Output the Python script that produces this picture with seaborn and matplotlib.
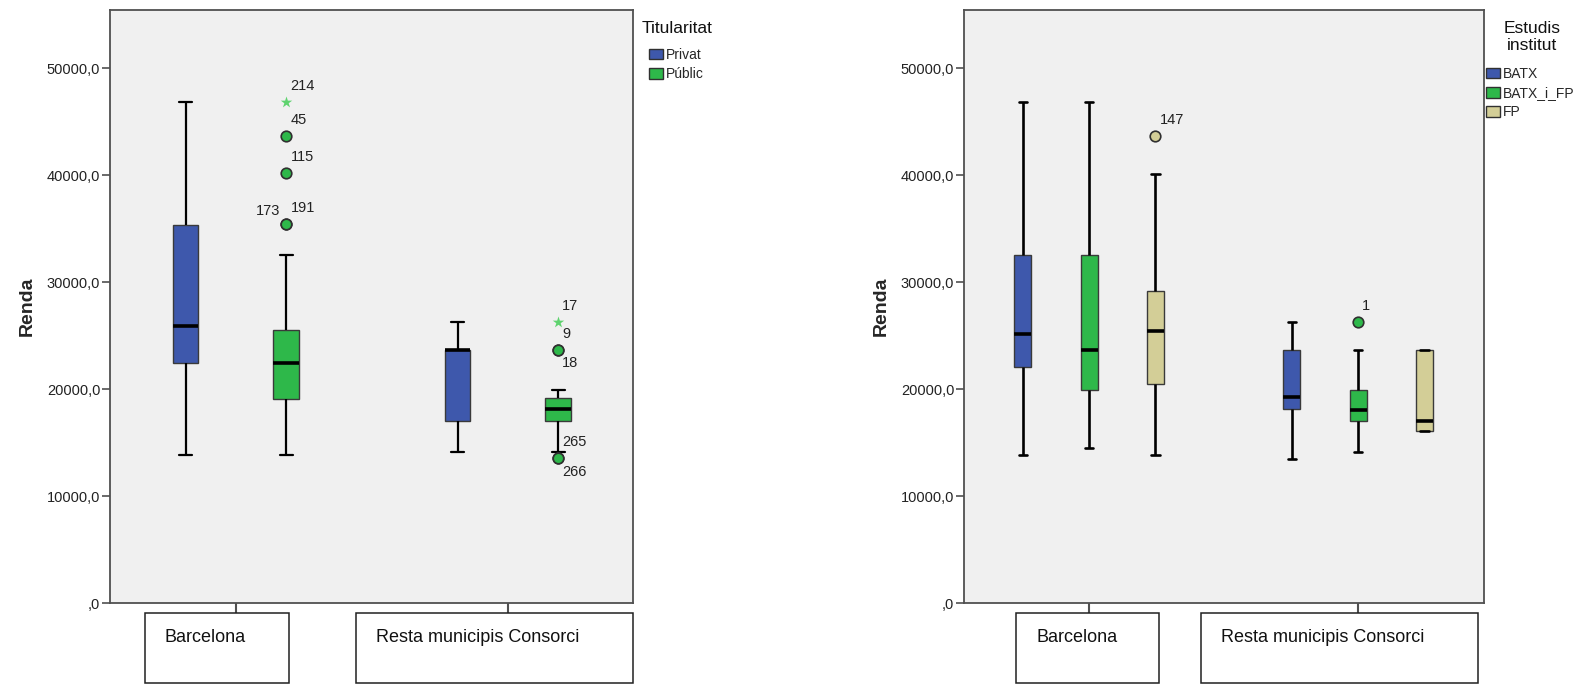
import numpy as np
import pandas as pd
import matplotlib
matplotlib.use("Agg")
import matplotlib.pyplot as plt
from matplotlib.patches import Patch, Rectangle
from matplotlib.ticker import FuncFormatter
import seaborn as sns

# values (Renda)
zones = ["Barcelona", "Resta municipis Consorci"]

# panel 1: Titularitat
tit_levels = ["Privat", "Públic"]
tit_zone = ["Barcelona", "Barcelona", "Resta municipis Consorci", "Resta municipis Consorci"]
tit_hue = ["Privat", "Públic", "Privat", "Públic"]
tit_low = [13870, 13870, 14110, 14110]
tit_q1 = [22430, 19090, 17010, 17010]
tit_med = [25940, 22430, 23730, 18190]
tit_q3 = [35400, 25530, 23730, 19210]
tit_high = [46860, 32540, 26300, 19980]

tit_out_zone = ["Barcelona"] * 5 + ["Resta municipis Consorci"] * 5
tit_out_hue = ["Públic"] * 10
tit_out_val = [46840, 43720, 40200, 35460, 35460, 26300, 23690, 23690, 13560, 13560]
tit_out_kind = ["*", "o", "o", "o", "o", "*", "o", "o", "o", "o"]
tit_out_label = ["214", "45", "115", "173", "191", "17", "9", "18", "265", "266"]

# panel 2: Estudis institut
est_levels = ["BATX", "BATX_i_FP", "FP"]
est_zone = ["Barcelona"] * 3 + ["Resta municipis Consorci"] * 3
est_hue = ["BATX", "BATX_i_FP", "FP"] * 2
est_low = [13870, 14480, 13870, 13540, 14110, 16110]
est_q1 = [22060, 19940, 20510, 18150, 17010, 16110]
est_med = [25160, 23650, 25490, 19290, 18070, 17010]
est_q3 = [32540, 32540, 29160, 23700, 19940, 23700]
est_high = [46860, 46860, 40170, 26300, 23700, 23700]

est_out_zone = ["Barcelona", "Resta municipis Consorci"]
est_out_hue = ["FP", "BATX_i_FP"]
est_out_val = [43680, 26300]
est_out_kind = ["o", "o"]
est_out_label = ["147", "1"]

# label placement next to each outlier (ur = upper right, ul = upper left, lr = lower right)
tit_out_side = ["ur", "ur", "ur", "ul", "ur", "ur", "ur", "lr", "ur", "lr"]
est_out_side = ["ur", "ur"]

colors = {"Privat": "#3e58ac", "Públic": "#2eb84a",
          "BATX": "#3e58ac", "BATX_i_FP": "#2eb84a", "FP": "#d3ce97"}
star_color = "#5fd36f"

sns.set_style("white")
plt.rcParams["font.family"] = ["Liberation Sans", "DejaVu Sans"]

W, H = 1584, 684
fig = plt.figure(figsize=(W / 100, H / 100), dpi=100)


def fx(px):
    return px / W


def fy(py):
    return 1 - py / H


def five_number_frame(zone, hue, low, q1, med, q3, high):
    rows = []
    for z, h, *vals in zip(zone, hue, low, q1, med, q3, high):
        for v in vals:
            rows.append((z, h, v))
    return pd.DataFrame(rows, columns=["zona", "grup", "Renda"])


BOX_W = 0.74
offsets_pt = {"ur": (3, 11.5, "left"), "ul": (-4, 9.5, "right"), "lr": (3, -9.5, "left")}


def draw_panel(ax, df, levels, oz, oh, ov, ok, ol, oside, whisk_lw):
    sns.boxplot(data=df, x="zona", y="Renda", hue="grup", order=zones, hue_order=levels,
                palette=colors, width=BOX_W, gap=0.745, whis=(0, 100), showfliers=False,
                saturation=1, linecolor="#3a3a3a", linewidth=1.0,
                medianprops=dict(color="black", linewidth=2.6),
                whiskerprops=dict(color="black", linewidth=whisk_lw),
                capprops=dict(color="black", linewidth=whisk_lw),
                legend=False, ax=ax)
    n = len(levels)
    for z, h, v, k, lab, side in zip(oz, oh, ov, ok, ol, oside):
        x = zones.index(z) + (levels.index(h) - (n - 1) / 2) * BOX_W / n
        if k == "*":
            ax.scatter([x], [v], marker="*", s=75, color=star_color, linewidths=0, zorder=5)
        else:
            ax.scatter([x], [v], marker="o", s=58, facecolor=colors[h], edgecolor="#303030",
                       linewidths=1.2, zorder=5)
        dx, dy, ha = offsets_pt[side]
        ax.annotate(lab, (x, v), xytext=(dx, dy), textcoords="offset points",
                    ha=ha, va="center", fontsize=10.5, color="#222222")

    ax.set_facecolor("#f0f0f0")
    for s in ax.spines.values():
        s.set_visible(True)
        s.set_color("#505050")
        s.set_linewidth(1.3)
    ax.set_ylim(0, 55500)
    ax.set_yticks(np.arange(0, 50001, 10000))
    ax.yaxis.set_major_formatter(FuncFormatter(
        lambda v, p: ",0" if v == 0 else f"{v:.1f}".replace(".", ",")))
    ax.tick_params(axis="y", left=True, length=6, width=1.2, color="#505050",
                   labelsize=10.5, labelcolor="#222222", pad=1)
    ax.tick_params(axis="x", bottom=True, length=7, width=1.5, color="#505050",
                   labelbottom=False)
    ax.set_xlabel("")
    ax.set_ylabel("Renda", fontsize=14, fontweight="bold", va="bottom")
    ax.yaxis.set_label_coords(-0.142, 0.5)


# left panel
ax1 = fig.add_axes([fx(110), fy(603.4), fx(633) - fx(110), fy(9.6) - fy(603.4)])
df1 = five_number_frame(tit_zone, tit_hue, tit_low, tit_q1, tit_med, tit_q3, tit_high)
draw_panel(ax1, df1, tit_levels, tit_out_zone, tit_out_hue, tit_out_val, tit_out_kind,
           tit_out_label, tit_out_side, 1.6)
ax1.set_xlim(-0.463, 1.46)

# right panel
ax2 = fig.add_axes([fx(964), fy(603.4), fx(1484) - fx(964), fy(9.6) - fy(603.4)])
df2 = five_number_frame(est_zone, est_hue, est_low, est_q1, est_med, est_q3, est_high)
draw_panel(ax2, df2, est_levels, est_out_zone, est_out_hue, est_out_val, est_out_kind,
           est_out_label, est_out_side, 1.9)
ax2.set_xlim(-0.465, 1.468)

# legends: titles as separate text, entries as legend
leg_kw = dict(loc="upper left", bbox_transform=fig.transFigure, frameon=False,
              fontsize=10, handlelength=1.0, handleheight=0.8,
              handletextpad=0.25, labelspacing=0.37, borderpad=0, borderaxespad=0)
h1 = [Patch(facecolor=colors[l], edgecolor="#303030", linewidth=1) for l in tit_levels]
ax1.legend(h1, tit_levels, bbox_to_anchor=(fx(649), fy(48)), **leg_kw)
fig.text(fx(642), fy(28.5), "Titularitat", ha="left", va="center", fontsize=12.5,
         color="#111111")

h2 = [Patch(facecolor=colors[l], edgecolor="#303030", linewidth=1) for l in est_levels]
ax2.legend(h2, est_levels, bbox_to_anchor=(fx(1486), fy(67)), **leg_kw)
fig.text(fx(1532), fy(37), "Estudis\ninstitut", ha="center", va="center", fontsize=12.5,
         linespacing=1.2, color="#111111")

# SPSS-style category boxes under the axes
label_boxes = [(145, 289, "Barcelona"), (356, 633, "Resta municipis Consorci"),
               (1016, 1159, "Barcelona"), (1201, 1478, "Resta municipis Consorci")]
for x0, x1, txt in label_boxes:
    fig.add_artist(Rectangle((fx(x0), fy(683)), fx(x1) - fx(x0), fy(613) - fy(683),
                             transform=fig.transFigure, fill=False,
                             edgecolor="#202020", linewidth=1.1))
    fig.text(fx(x0 + 20), fy(637), txt, ha="left", va="center", fontsize=13,
             color="#111111")

fig.savefig("out.png", dpi=100)
